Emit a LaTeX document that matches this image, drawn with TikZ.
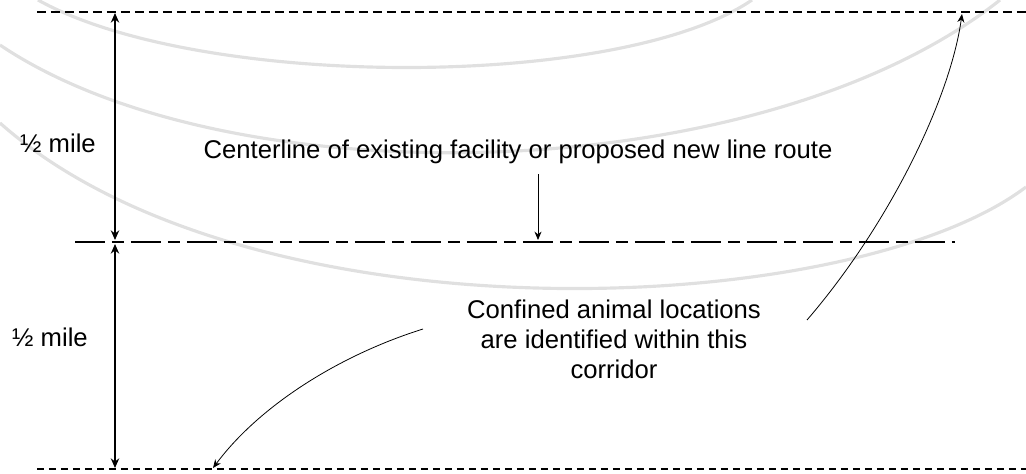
\documentclass[tikz,border=0pt]{standalone}
\usepackage{fontspec}
\setmainfont{Liberation Sans}
\usetikzlibrary{arrows.meta, positioning}
\tikzset{
    textlabel/.style={
        font=\fontsize{14.6}{17.1}\selectfont,
        text centered,
        inner sep=0pt
    },
    notelabel/.style={
        textlabel,
        align=center
    },
    routeline/.style={
        line width=0.9pt,
        dash pattern=on 0.6cm off 0.14cm on 0.24cm off 0.14cm
    },
    topedge/.style={
        line width=0.9pt,
        dash pattern=on 0.18cm off 0.1cm
    },
    bottomedge/.style={
        line width=0.9pt,
        dash pattern=on 0.15cm off 0.09cm
    },
    dimarrow/.style={
        line width=0.7pt,
        {Stealth[length=5.5pt,width=4.8pt]}-{Stealth[length=5.5pt,width=4.8pt]}
    },
    arrow/.style={
        line width=0.45pt,
        -{Stealth[length=4.8pt,width=4pt]}
    },
    swoosh/.style={
        draw=black!12,
        line width=1.8pt
    }
}

\begin{document}
\begin{tikzpicture}[x=0.02cm, y=-0.02cm]
\useasboundingbox (0,0) rectangle (1026,473);

% Background swooshes
\begin{scope}
\clip (0,0) rectangle (1026,473);
\draw[swoosh] (38,0) .. controls (200,90) and (620,90) .. (752,0);
\draw[swoosh] (0,45) .. controls (230,200) and (760,190) .. (1000,0);
\draw[swoosh] (0,123) .. controls (250,345) and (850,320) .. (1026,187);
\end{scope}

% Corridor lines
\coordinate (topleft) at (37,12);
\coordinate (topright) at (1026,12);
\coordinate (midleft) at (75,242);
\coordinate (midright) at (955,242);
\coordinate (botleft) at (37,469);
\coordinate (botright) at (1026,469);

\draw[topedge] (topleft) -- (topright);
\draw[routeline] (midleft) -- (midright);
\draw[bottomedge] (botleft) -- (botright);

% Nodes
\node (halfmiletop) [textlabel] at (58,143) {½ mile};
\node (halfmilebottom) [textlabel] at (50,337) {½ mile};
\node (centerlabel) [textlabel] at (518,152) {Centerline of existing facility or proposed new line route};
\node (corridorlabel) [notelabel] at (614,339) {Confined animal locations\\are identified within this\\corridor};

% Arrow ends
\coordinate (topmark) at (115,13);
\coordinate (midup) at (115,240);
\coordinate (middown) at (115,244);
\coordinate (botmark) at (115,468);
\coordinate (centertail) at (538,174);
\coordinate (centerhit) at (538,240);
\coordinate (righttail) at (807,320);
\coordinate (tophit) at (962,14);
\coordinate (lefttail) at (423,329);
\coordinate (bothit) at (213,468);

% Arrows
\draw[dimarrow] (topmark) -- (midup);
\draw[dimarrow] (middown) -- (botmark);
\draw[arrow] (centertail) -- (centerhit);
\draw[arrow] (righttail) .. controls (888,226) and (950,100) .. (tophit);
\draw[arrow] (lefttail) .. controls (340,355) and (260,405) .. (bothit);

\end{tikzpicture}
\end{document}
